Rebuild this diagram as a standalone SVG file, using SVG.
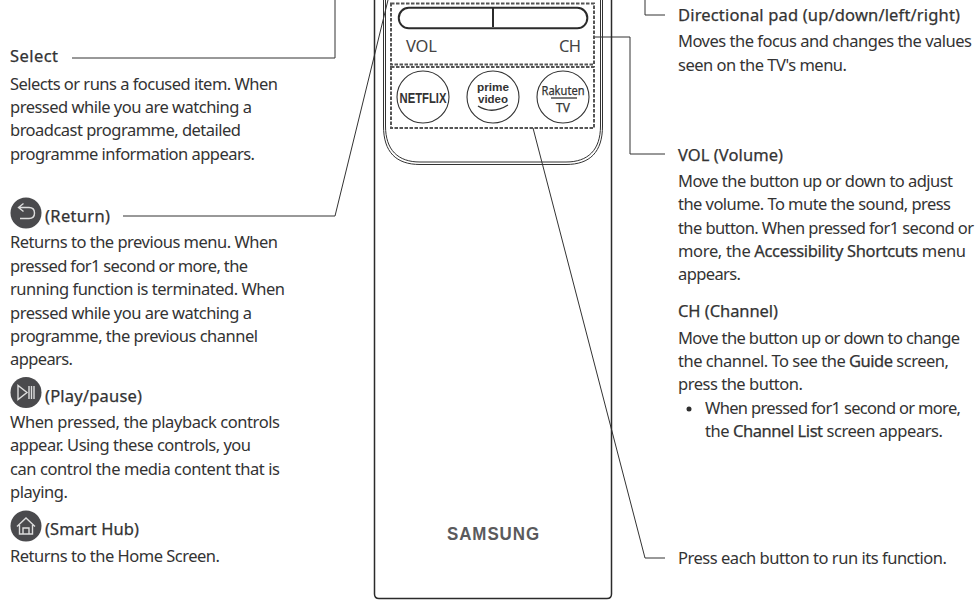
<svg xmlns="http://www.w3.org/2000/svg" width="980" height="607" viewBox="0 0 980 607">
<style>
text{font-family:"Noto Sans","Open Sans","Liberation Sans",sans-serif;font-size:16.5px;fill:#333}
.m{stroke:#333;stroke-width:.25}
.l{fill:none;stroke:#333;stroke-width:1}
.b{fill:none;stroke:#2b2b2b;stroke-width:1.5}
.d{fill:none;stroke:#555;stroke-width:2;stroke-dasharray:3.500 1.500}
.ic{fill:#4a4a4d}
.g{fill:none;stroke:#ddd;stroke-width:1.400}
.c{fill:#fff;stroke:#333;stroke-width:1.100}
.r{font-size:16.500px;fill:#444}
.p{font-family:"Liberation Sans",sans-serif;font-size:10.400px;font-weight:700;fill:#333}
</style>
<rect width="980" height="607" fill="#fff"/>
<g id="connectors">
<path class="l" d="M72 58H335V0"/>
<path class="l" d="M123 216H335L388 0"/>
<path class="l" d="M645 0V15H665"/>
<path class="l" d="M594 37H630V154H665"/>
<path class="l" d="M533 128L645 558H665"/>
</g>
<g id="remote">
<path class="b" d="M374.500 0V594Q374.500 598.500 379 598.500H607Q611.500 598.500 611.500 594V0"/>
<path class="l" d="M383.500 0V126C383.500 152 396 164.500 420 164.500H566C590 164.500 602.500 152 602.500 126V0"/>
<path class="l" d="M385.500 0V126C385.500 150 398 162 420 162H566C588 162 600.500 150 600.500 126V0"/>
<rect class="d" x="391" y="3.500" width="203" height="61"/>
<rect class="d" x="391" y="67" width="203" height="61"/>
<rect x="398.800" y="7.800" width="188.500" height="20.500" rx="10" class="b" style="stroke-width:2"/>
<path class="b" d="M493 8V27" style="stroke-width:2"/>
<text x="406" y="52" textLength="31" class="r">VOL</text>
<text x="559" y="52" textLength="22" class="r">CH</text>
<text x="447" y="540" textLength="93" lengthAdjust="spacingAndGlyphs" style="font-family:'Liberation Sans',sans-serif;font-weight:700;font-size:18px;letter-spacing:1px;fill:#5a5a5c">SAMSUNG</text>
</g>
<g id="btn-netflix"><circle class="c" cx="423" cy="97" r="26"/><text x="399.500" y="102.500" textLength="47" lengthAdjust="spacingAndGlyphs" style="font-family:'Liberation Sans',sans-serif;font-weight:700;font-size:14px;fill:#333">NETFLIX</text></g>
<g id="btn-prime"><circle class="c" cx="493" cy="97" r="26"/><text x="477" y="91" textLength="32" lengthAdjust="spacingAndGlyphs" class="p">prime</text><text x="478" y="103" textLength="30" lengthAdjust="spacingAndGlyphs" class="p">video</text><path d="M478 106Q492 115 508 105" fill="none" stroke="#333" stroke-width="1.300"/></g>
<g id="btn-rakuten"><circle class="c" cx="563" cy="97" r="26"/><text x="541.500" y="95" textLength="43" lengthAdjust="spacingAndGlyphs" class="m" style="font-size:12px">Rakuten</text><path d="M551 98H577" stroke="#333" fill="none" stroke-width="1.300"/><text x="563" y="112" text-anchor="middle" class="m" style="font-size:12px">TV</text></g>
<g id="select"><text x="10" y="62" textLength="48" class="m">Select</text>
<text x="10" y="90" textLength="268">Selects or runs a focused item. When</text>
<text x="10" y="113" textLength="242">pressed while you are watching a</text>
<text x="10" y="136" textLength="231">broadcast programme, detailed</text>
<text x="10" y="160" textLength="245">programme information appears.</text></g>
<g id="return"><circle class="ic" cx="26" cy="213" r="15.500"/><path class="g" d="M19 207.500H29Q34.500 207.500 34.500 213T29 218.500H20M23.500 203.500L18.500 207.500L23.500 211.500"/>
<text x="45" y="222" textLength="65" class="m">(Return)</text>
<text x="10" y="248" textLength="268">Returns to the previous menu. When</text>
<text x="10" y="272" textLength="238">pressed for1 second or more, the</text>
<text x="10" y="295" textLength="275">running function is terminated. When</text>
<text x="10" y="319" textLength="242">pressed while you are watching a</text>
<text x="10" y="342" textLength="248">programme, the previous channel</text>
<text x="10" y="365" textLength="63">appears.</text></g>
<g id="playpause"><circle class="ic" cx="26" cy="392.500" r="15.500"/><path class="g" d="M18 385.500V399.500L27 392.500ZM29 386V399M31.500 386V399M34 386V399"/>
<text x="45" y="402" textLength="97" class="m">(Play/pause)</text>
<text x="10" y="428" textLength="270">When pressed, the playback controls</text>
<text x="10" y="451" textLength="241">appear. Using these controls, you</text>
<text x="10" y="475" textLength="270">can control the media content that is</text>
<text x="10" y="498" textLength="58">playing.</text></g>
<g id="smarthub"><circle class="ic" cx="26" cy="526" r="15.500"/><path class="g" d="M17 526.500L26 518L35 526.500M19.500 525V534H32.500V525M23 534V528H29V534"/>
<text x="45" y="535" textLength="94" class="m">(Smart Hub)</text>
<text x="10" y="562" textLength="210">Returns to the Home Screen.</text></g>
<g id="dpad"><text x="678" y="21" textLength="282" class="m">Directional pad (up/down/left/right)</text>
<text x="678" y="47" textLength="294">Moves the focus and changes the values</text>
<text x="678" y="71" textLength="169">seen on the TV's menu.</text></g>
<g id="vol"><text x="678" y="161" textLength="105" class="m">VOL (Volume)</text>
<text x="678" y="187" textLength="275">Move the button up or down to adjust</text>
<text x="678" y="210" textLength="273">the volume. To mute the sound, press</text>
<text x="678" y="234" textLength="296">the button. When pressed for1 second or</text>
<text x="678" y="257" textLength="288">more, the <tspan class="m">Accessibility Shortcuts</tspan> menu</text>
<text x="678" y="280" textLength="63">appears.</text></g>
<g id="ch"><text x="678" y="317" textLength="100" class="m">CH (Channel)</text>
<text x="678" y="344" textLength="282">Move the button up or down to change</text>
<text x="678" y="367" textLength="271">the channel. To see the <tspan class="m">Guide</tspan> screen,</text>
<text x="678" y="390" textLength="125">press the button.</text>
<circle cx="689" cy="409" r="2.500" fill="#2e2e2e"/>
<text x="705" y="414" textLength="256">When pressed for1 second or more,</text>
<text x="705" y="437" textLength="238">the <tspan class="m">Channel List</tspan> screen appears.</text></g>
<g id="press"><text x="678" y="564" textLength="269">Press each button to run its function.</text></g>
</svg>
